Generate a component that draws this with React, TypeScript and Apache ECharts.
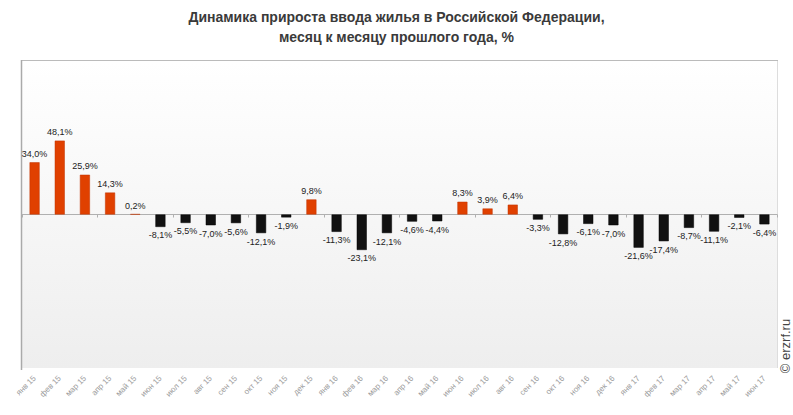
import React, { useEffect, useRef } from "react";
import * as echarts from "echarts";

const categories = [
  "янв 15", "фев 15", "мар 15", "апр 15", "май 15", "июн 15", "июл 15", "авг 15", "сен 15", "окт 15", "ноя 15", "дек 15",
  "янв 16", "фев 16", "мар 16", "апр 16", "май 16", "июн 16", "июл 16", "авг 16", "сен 16", "окт 16", "ноя 16", "дек 16",
  "янв 17", "фев 17", "мар 17", "апр 17", "май 17", "июн 17",
];
const values = [
  34.0, 48.1, 25.9, 14.3, 0.2, -8.1, -5.5, -7.0, -5.6, -12.1, -1.9, 9.8,
  -11.3, -23.1, -12.1, -4.6, -4.4, 8.3, 3.9, 6.4, -3.3, -12.8, -6.1, -7.0,
  -21.6, -17.4, -8.7, -11.1, -2.1, -6.4,
];
const titleText = "Динамика прироста ввода жилья в Российской Федерации,\nмесяц к месяцу прошлого года, %";
const watermark = "© erzrf.ru";

const W = 793;
const H = 415;
const G = { left: 22, right: 16, top: 61, bottom: 47 };

export default function App() {
  const ref = useRef<HTMLDivElement>(null);
  useEffect(() => {
    if (!ref.current) return;
    const chart = echarts.init(ref.current, undefined, { renderer: "svg" });
    const gx0 = G.left;
    const gx1 = W - G.right;
    const gy0 = G.top;
    const gy1 = H - G.bottom;
    chart.setOption({
      animation: false,
      backgroundColor: "#ffffff",
      title: {
        text: titleText,
        left: "center",
        top: 2,
        textStyle: {
          fontFamily: "Liberation Sans, Arial, sans-serif",
          fontSize: 14,
          fontWeight: "bold",
          color: "#3a3a3a",
          lineHeight: 20,
        },
      },
      grid: {
        left: G.left,
        right: G.right,
        top: G.top,
        bottom: G.bottom,
        show: true,
        borderWidth: 0,
        backgroundColor: new echarts.graphic.LinearGradient(0, 0, 0, 1, [
          { offset: 0, color: "#ffffff" },
          { offset: 1, color: "#eeeeee" },
        ]),
      },
      xAxis: [
        {
          type: "category",
          data: categories,
          axisLine: { onZero: true, lineStyle: { color: "#b0b0b0", width: 1 } },
          axisTick: { show: true, length: 3, lineStyle: { color: "#b0b0b0" } },
          axisLabel: { show: false },
          splitLine: { show: false },
        },
        {
          type: "category",
          data: categories,
          position: "bottom",
          axisLine: { show: false },
          axisTick: { show: false },
          axisLabel: {
            show: true,
            rotate: 45,
            margin: 9,
            interval: 0,
            fontSize: 8,
            color: "#9a9a9a",
            fontFamily: "Liberation Sans, Arial, sans-serif",
          },
        },
      ],
      yAxis: {
        type: "value",
        min: -100,
        max: 100,
        show: false,
        splitLine: { show: false },
      },
      series: [
        {
          type: "bar",
          xAxisIndex: 0,
          barWidth: 10,
          data: values.map((v) => ({
            value: v,
            itemStyle: {
              color: v >= 0 ? "#e04000" : "#111111",
              borderColor: v >= 0 ? "#c03400" : "#000000",
              borderWidth: 0.5,
            },
            label: { position: v >= 0 ? "top" : "bottom" },
          })),
          label: {
            show: true,
            distance: 4,
            fontSize: 9,
            color: "#222222",
            fontFamily: "Liberation Sans, Arial, sans-serif",
            formatter: (p: any) => p.value.toFixed(1).replace(".", ",") + "%",
          },
        },
      ],
      graphic: [
        {
          type: "line",
          shape: { x1: gx0 - 1, y1: gy0 - 0.5, x2: gx1 + 1, y2: gy0 - 0.5 },
          style: { stroke: "#bbbbbb", lineWidth: 1 },
          silent: true,
        },
        {
          type: "line",
          shape: { x1: gx0 - 0.5, y1: gy0 - 1, x2: gx0 - 0.5, y2: gy1 + 2 },
          style: { stroke: "#aaaaaa", lineWidth: 1.5 },
          silent: true,
        },
        {
          type: "line",
          shape: { x1: gx1 + 0.5, y1: gy0, x2: gx1 + 0.5, y2: gy1 },
          style: { stroke: "#dddddd", lineWidth: 1 },
          silent: true,
        },
        {
          type: "text",
          x: 785,
          y: 346,
          rotation: Math.PI / 2,
          style: {
            text: watermark,
            fontSize: 13,
            fontFamily: "Liberation Sans, Arial, sans-serif",
            fill: "#444444",
            align: "center",
            verticalAlign: "middle",
          },
          silent: true,
        },
      ],
    });
    return () => chart.dispose();
  }, []);
  return (
    <div
      ref={ref}
      style={{ position: "fixed", left: 0, top: 0, width: W, height: H }}
    />
  );
}
